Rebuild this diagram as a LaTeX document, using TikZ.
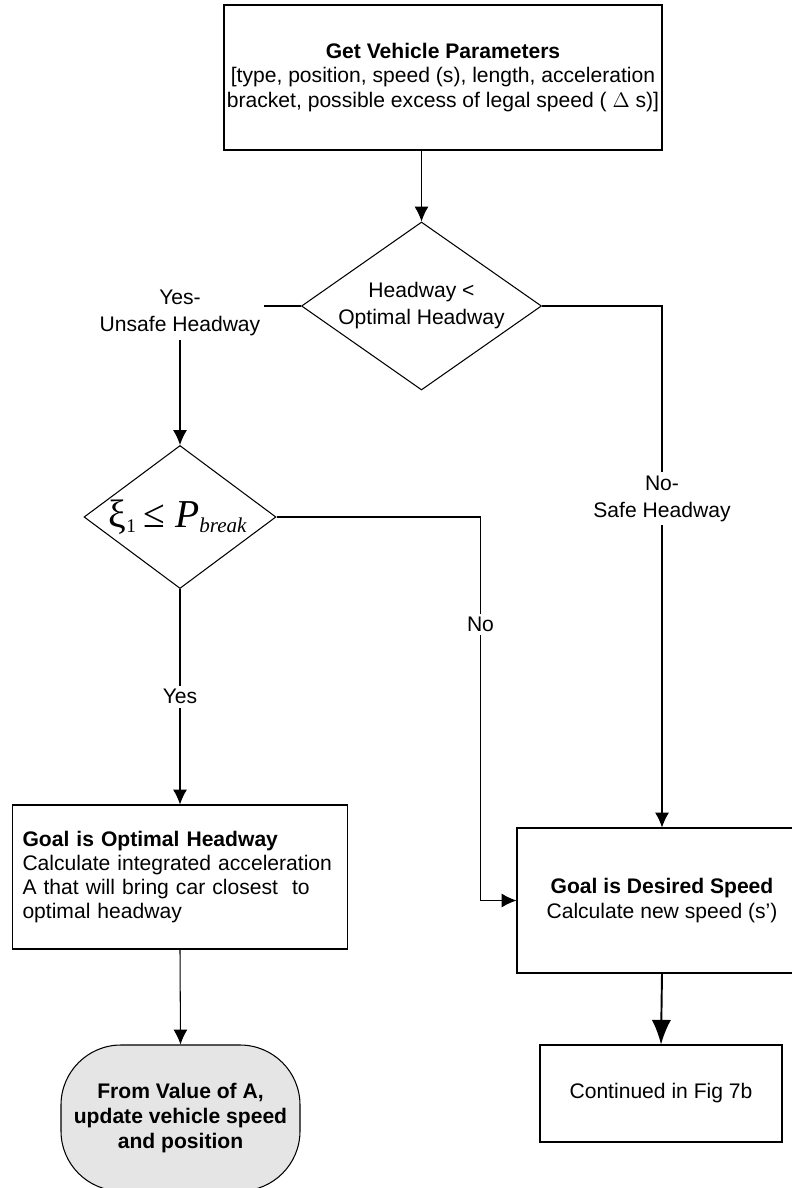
\documentclass[tikz,border=0pt]{standalone}
\usepackage{fontspec}
\setmainfont{Liberation Sans}
\newfontfamily\timesfont{Liberation Serif}
\usepackage{tikz}
\usetikzlibrary{shapes,arrows.meta}
\usetikzlibrary{positioning}

\begin{document}
\begin{tikzpicture}[>={Latex[length=8.5pt,width=8pt]}, line width=0.6pt, font=\fontsize{12}{13.8}\selectfont]

    \tikzstyle{process}=[draw, shape=rectangle, inner sep=0pt, align=center];
    \tikzstyle{decision}=[draw, shape=diamond, aspect=1.4, inner sep=0pt, align=center, font=\fontsize{12}{15.4}\selectfont];
    \tikzstyle{branch}=[fill=white, inner sep=2pt, align=center, font=\fontsize{12}{15.4}\selectfont];
    \tikzstyle{terminal}=[draw, fill=gray!20, rounded corners=1.2cm, align=center, font=\bfseries\fontsize{12}{14.4}\selectfont];

    \useasboundingbox (0,0) rectangle (15.82,-23.76);

    \node [process, minimum width=8.76cm, minimum height=2.9cm](params) at (8.86,-1.55){\textbf{Get Vehicle Parameters}\\{[}type, position, speed (s), length, acceleration\\bracket, possible excess of legal speed ( $\Delta$ s)]};
    \node [decision, minimum width=4.8cm, minimum height=3.36cm](headway) at (8.43,-6.12){Headway <\\Optimal Headway};
    \node [branch](unsafe) at (3.6,-6.25){Yes-\\Unsafe Headway};
    \node [decision, minimum width=3.84cm, minimum height=2.86cm](brake) at (3.6,-10.34){};
    \node (brakerule) at ([xshift=-1pt]brake) {\timesfont\fontsize{22.5}{22.5}\selectfont ξ\textsubscript{\fontsize{11}{11}\selectfont 1}\,≤ \textit{P}\textsubscript{\fontsize{12}{12}\selectfont\textit{break}}};
    \node [process, minimum width=6.7cm, minimum height=2.88cm, text width=6.3cm, inner xsep=0.2cm, align=left](optimal) at (3.6,-17.54){\textbf{Goal is Optimal Headway}\\Calculate integrated acceleration\\A that will bring car closest~ to\\optimal headway};
    \node [process, minimum width=5.8cm, minimum height=2.9cm](desired) at (13.24,-18.01){\textbf{Goal is Desired Speed}\\Calculate new speed (s')};
    \node [terminal, minimum width=4.78cm, minimum height=2.92cm](update) at (3.61,-22.36){From Value of A,\\update vehicle speed\\and position};
    \node [process, minimum width=4.84cm, minimum height=1.94cm](next) at (13.22,-21.87){Continued in Fig 7b};

    \draw [->] (params.south -| headway.north) to (headway.north);
    \draw (headway.west) to (headway.west -| unsafe.east);
    \draw [->] (unsafe.south) to (brake.north);
    \draw [->] (headway.east) -| node [branch, pos=0.685](safe){No-\\Safe Headway} (desired.north);
    \draw [->] (brake.east) -| node [branch, pos=0.64](no){No} ([xshift=-0.72cm]desired.west) to (desired.west);
    \draw [->] (brake.south) to node [branch](yes){Yes} (optimal.north);
    \draw [->] (optimal.south) to (update.north);
    \draw [-{Latex[length=14pt,width=11pt]}, line width=1.1pt] (desired.south) to (next.north);

\end{tikzpicture}
\end{document}
